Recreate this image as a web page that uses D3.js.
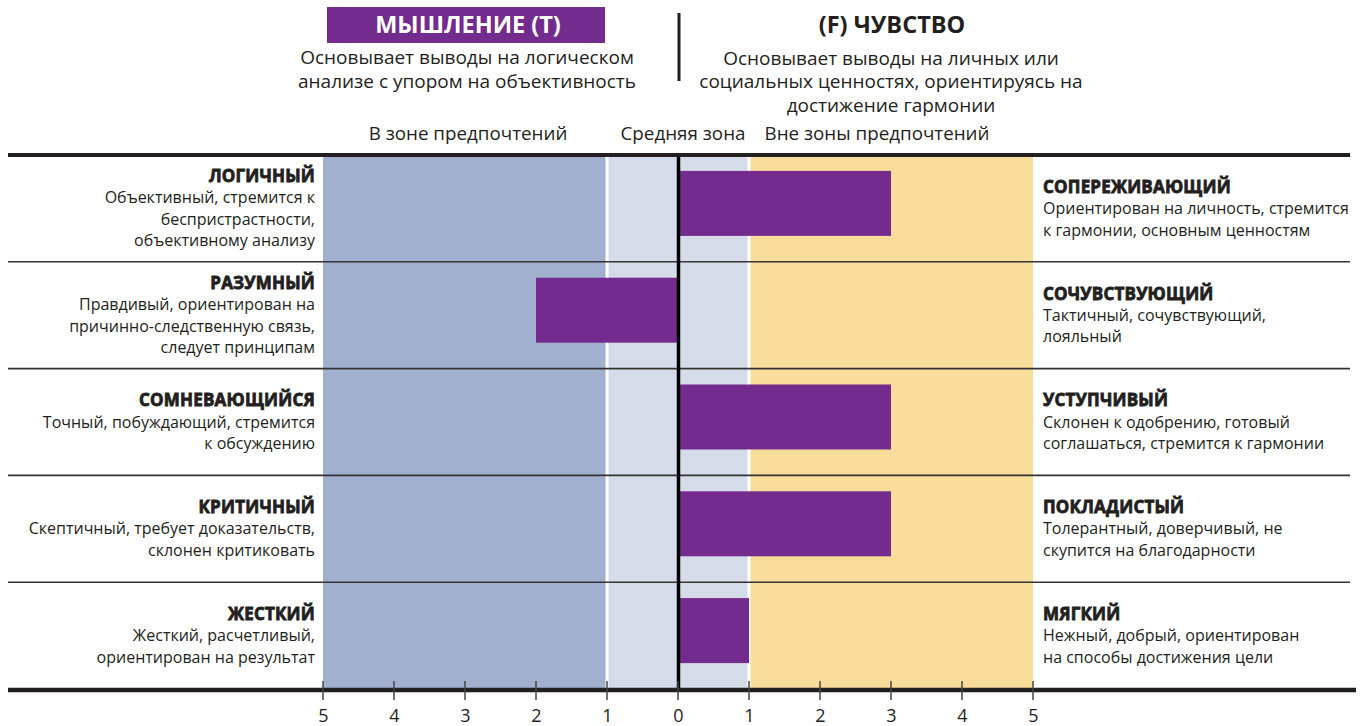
<!DOCTYPE html>
<html>
<head>
<meta charset="utf-8">
<script src="https://cdn.jsdelivr.net/npm/d3@7"></script>
<style>
  html, body { margin: 0; padding: 0; background: #fff; }
  svg { display: block; font-family: "Open Sans", "Noto Sans", sans-serif; }
</style>
</head>
<body>
<svg id="chart" width="1364" height="726"></svg>
<script>
// Scale items: thinking (left, negative) vs feeling (right, positive)
const leftTitles = ["ЛОГИЧНЫЙ", "РАЗУМНЫЙ", "СОМНЕВАЮЩИЙСЯ", "КРИТИЧНЫЙ", "ЖЕСТКИЙ"];
const leftDescriptions = [
  ["Объективный, стремится к", "беспристрастности,", "объективному анализу"],
  ["Правдивый, ориентирован на", "причинно-следственную связь,", "следует принципам"],
  ["Точный, побуждающий, стремится", "к обсуждению"],
  ["Скептичный, требует доказательств,", "склонен критиковать"],
  ["Жесткий, расчетливый,", "ориентирован на результат"]
];
const rightTitles = ["СОПЕРЕЖИВАЮЩИЙ", "СОЧУВСТВУЮЩИЙ", "УСТУПЧИВЫЙ", "ПОКЛАДИСТЫЙ", "МЯГКИЙ"];
const rightDescriptions = [
  ["Ориентирован на личность, стремится", "к гармонии, основным ценностям"],
  ["Тактичный, сочувствующий,", "лояльный"],
  ["Склонен к одобрению, готовый", "соглашаться, стремится к гармонии"],
  ["Толерантный, доверчивый, не", "скупится на благодарности"],
  ["Нежный, добрый, ориентирован", "на способы достижения цели"]
];
const scores = [3, -2, 3, 3, 1];

const tickValues = [-5, -4, -3, -2, -1, 0, 1, 2, 3, 4, 5];
const tickLabels = ["5", "4", "3", "2", "1", "0", "1", "2", "3", "4", "5"];

const zoneNames = ["В зоне предпочтений", "Средняя зона", "Вне зоны предпочтений"];
const zoneBounds = [[-5, -1], [-1, 1], [1, 5]];
const zoneColors = ["#a1b0cf", "#d5dbe8", "#f8dc9a"];

const leftHeading = "МЫШЛЕНИЕ (T)";
const leftHeadingText = ["Основывает выводы на логическом", "анализе с упором на объективность"];
const rightHeading = "(F) ЧУВСТВО";
const rightHeadingText = ["Основывает выводы на личных или", "социальных ценностях, ориентируясь на", "достижение гармонии"];

const purple = "#732b8e";
const ink = "#231f20";

const svg = d3.select("#chart");

const x = d3.scaleLinear().domain([-5, 5]).range([323, 1033]);
const plotTop = 155, plotBottom = 689;
const y = d3.scaleBand().domain(d3.range(leftTitles.length)).range([plotTop, plotBottom]).paddingInner(0);

// Zone backgrounds
svg.append("g").selectAll("rect")
  .data(zoneBounds)
  .join("rect")
  .attr("x", d => x(d[0]))
  .attr("width", d => x(d[1]) - x(d[0]))
  .attr("y", plotTop).attr("height", plotBottom - plotTop)
  .attr("fill", (d, i) => zoneColors[i]);

// White gaps between zones
svg.append("g").selectAll("line")
  .data([-1, 1])
  .join("line")
  .attr("x1", d => x(d)).attr("x2", d => x(d))
  .attr("y1", plotTop).attr("y2", plotBottom)
  .attr("stroke", "#fff").attr("stroke-width", 3);

// Row separators
svg.append("g").selectAll("line")
  .data(d3.range(1, leftTitles.length))
  .join("line")
  .attr("x1", 8).attr("x2", 1350)
  .attr("y1", d => y(d)).attr("y2", d => y(d))
  .attr("stroke", "#333").attr("stroke-width", 1.6);

// Zone labels
svg.append("g").selectAll("text")
  .data(zoneNames)
  .join("text")
  .attr("x", (d, i) => [468, 683, 877][i])
  .attr("y", 133)
  .attr("dy", "0.35em")
  .attr("text-anchor", "middle")
  .attr("font-size", 18.8)
  .attr("fill", ink)
  .text(d => d);

// Bars
const barH = 65;
svg.append("g").selectAll("rect")
  .data(scores)
  .join("rect")
  .attr("x", d => x(Math.min(0, d)))
  .attr("width", d => Math.abs(x(d) - x(0)))
  .attr("y", (d, i) => y(i) + y.bandwidth() / 2 - barH / 2 - 5)
  .attr("height", barH)
  .attr("fill", purple);

// Center line
svg.append("line")
  .attr("x1", x(0) + 0.5).attr("x2", x(0) + 0.5)
  .attr("y1", plotTop).attr("y2", plotBottom)
  .attr("stroke", "#000").attr("stroke-width", 3.5);

// Top rule
svg.append("line")
  .attr("x1", 8).attr("x2", 1350)
  .attr("y1", plotTop).attr("y2", plotTop)
  .attr("stroke", ink).attr("stroke-width", 4);

// Bottom axis
const axis = svg.append("g").attr("transform", `translate(0,${plotBottom + 1})`)
  .call(d3.axisBottom(x).tickValues(tickValues).tickFormat((d, i) => tickLabels[i]).tickSize(0));
axis.select(".domain").remove();
axis.selectAll("text").attr("font-size", 18).attr("fill", ink).attr("dy", "1.6em")
  .attr("font-family", "Open Sans, sans-serif");

svg.append("line")
  .attr("x1", 8).attr("x2", 1356)
  .attr("y1", plotBottom + 1).attr("y2", plotBottom + 1)
  .attr("stroke", ink).attr("stroke-width", 4.5);

svg.append("g").selectAll("line")
  .data(tickValues)
  .join("line")
  .attr("x1", d => x(d)).attr("x2", d => x(d))
  .attr("y1", plotBottom - 8).attr("y2", plotBottom + 11)
  .attr("stroke", "#444").attr("stroke-width", 1.5);

// Row labels
const lineH = 21.5;
function rowBlock(g, title, desc, i, anchor, xPos) {
  const lines = [title].concat(desc);
  const cy = y(i) + y.bandwidth() / 2;
  const top = cy - (lines.length - 1) * lineH / 2;
  const t = g.append("text")
    .attr("text-anchor", anchor)
    .attr("fill", ink);
  lines.forEach((s, k) => {
    const ts = t.append("tspan")
      .attr("x", xPos)
      .attr("y", top + k * lineH)
      .attr("dy", "0.35em")
      .attr("font-size", k === 0 ? 17 : 16)
      .attr("font-weight", k === 0 ? 700 : 400)
      .attr("font-style", "normal")
      .text(s);
    if (k === 0) ts.attr("stroke", ink).attr("stroke-width", 0.8).attr("letter-spacing", 0.2);
  });
}
const labels = svg.append("g");
leftTitles.forEach((t, i) => rowBlock(labels, t, leftDescriptions[i], i, "end", 315));
rightTitles.forEach((t, i) => rowBlock(labels, t, rightDescriptions[i], i, "start", 1043));

// Heading: thinking
svg.append("rect")
  .attr("x", 327).attr("y", 7).attr("width", 278).attr("height", 36)
  .attr("fill", purple);
svg.append("text")
  .attr("x", 468).attr("y", 25).attr("dy", "0.36em")
  .attr("text-anchor", "middle")
  .attr("fill", "#fff").attr("font-size", 23.5).attr("font-weight", 700)
  .text(leftHeading);
svg.append("g").selectAll("text")
  .data(leftHeadingText)
  .join("text")
  .attr("x", 467).attr("y", (d, i) => 57 + i * 24).attr("dy", "0.35em")
  .attr("text-anchor", "middle").attr("font-size", 19).attr("fill", ink)
  .text(d => d);

// Heading: feeling
svg.append("text")
  .attr("x", 892).attr("y", 25).attr("dy", "0.36em")
  .attr("text-anchor", "middle")
  .attr("fill", ink).attr("font-size", 23.5).attr("font-weight", 700)
  .text(rightHeading);
svg.append("g").selectAll("text")
  .data(rightHeadingText)
  .join("text")
  .attr("x", 891).attr("y", (d, i) => 58 + i * 23.5).attr("dy", "0.35em")
  .attr("text-anchor", "middle").attr("font-size", 19).attr("fill", ink)
  .text(d => d);

// Heading divider
svg.append("line")
  .attr("x1", 679).attr("x2", 679).attr("y1", 13).attr("y2", 81)
  .attr("stroke", ink).attr("stroke-width", 3);
</script>
</body>
</html>
